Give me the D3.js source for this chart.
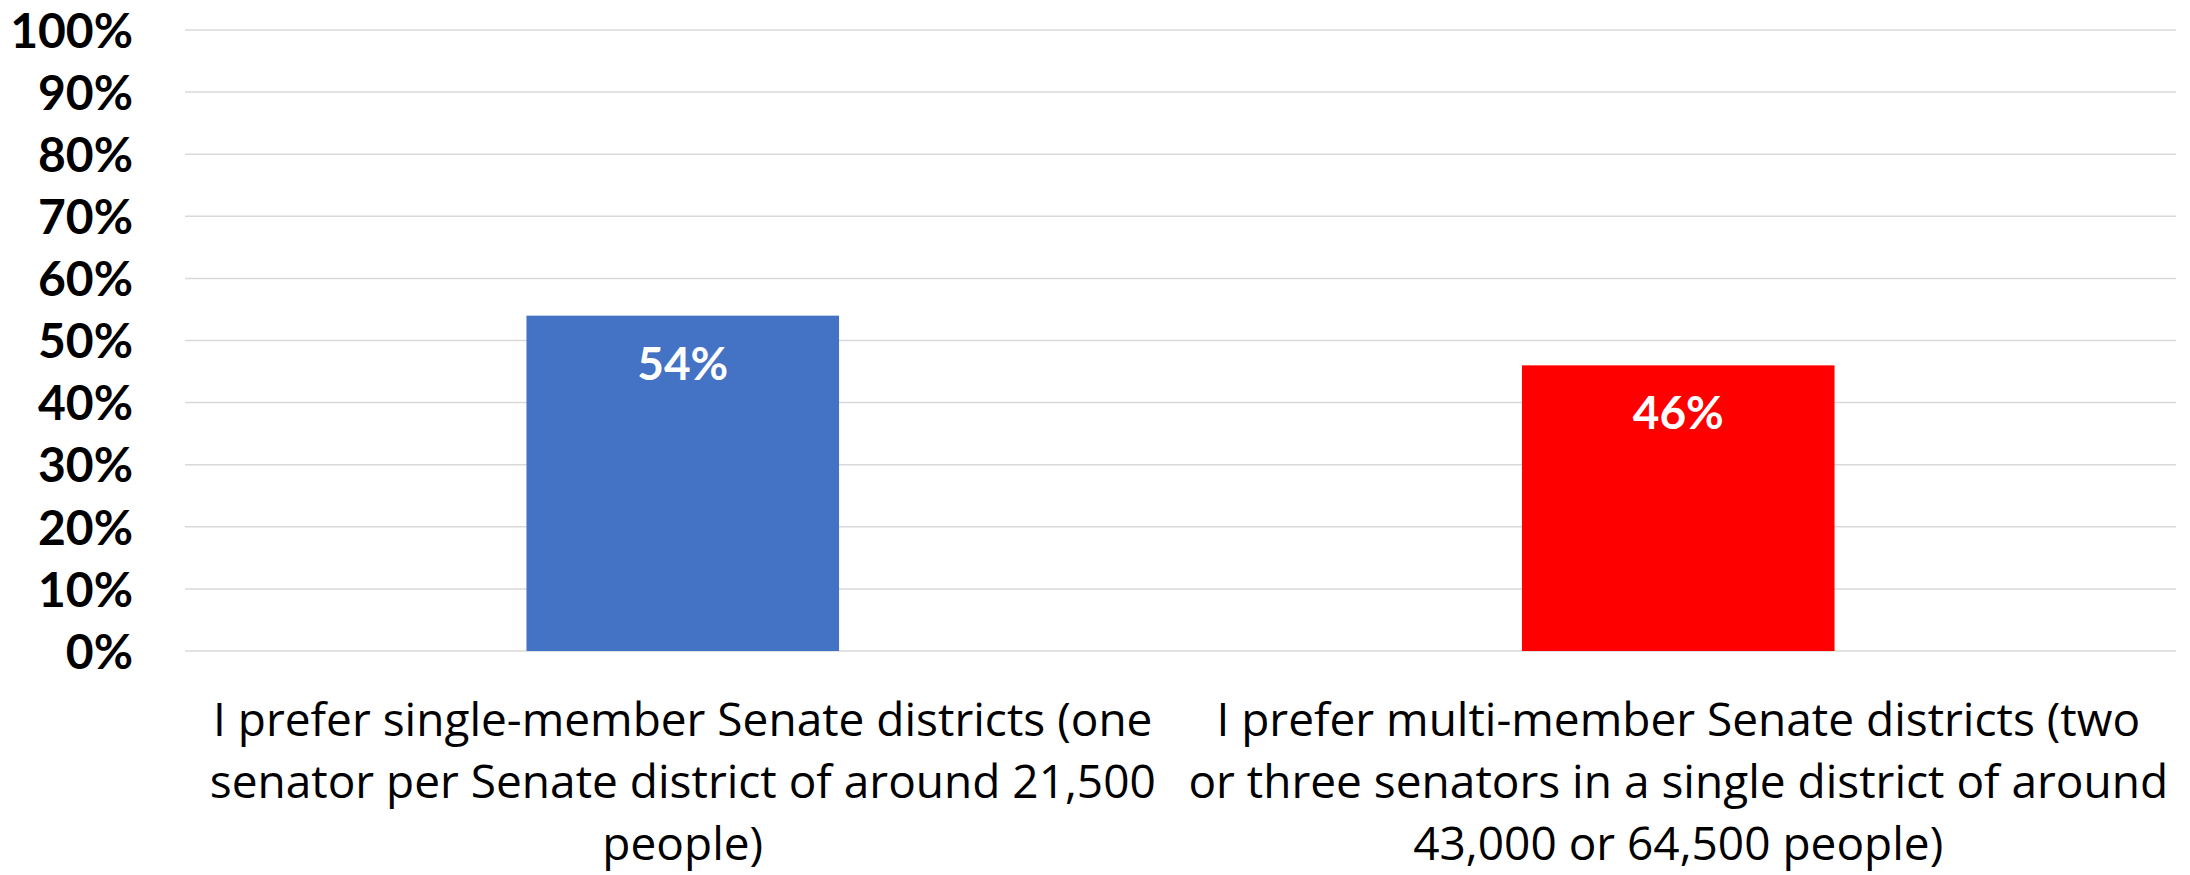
<!DOCTYPE html>
<html>
<head>
<meta charset="utf-8">
<script src="https://cdn.jsdelivr.net/npm/d3@7"></script>
<style>
  html, body { margin: 0; padding: 0; background: #ffffff; }
  svg { display: block; }
</style>
</head>
<body>
<svg id="chart" width="2190" height="875"></svg>
<script>
// Survey responses: preference between single- and multi-member Senate districts
const categories = [
  "I prefer single-member Senate districts (one senator per Senate district of around 21,500 people)",
  "I prefer multi-member Senate districts (two or three senators in a single district of around 43,000 or 64,500 people)"
];
const categoryLines = [
  ["I prefer single-member Senate districts (one", "senator per Senate district of around 21,500", "people)"],
  ["I prefer multi-member Senate districts (two", "or three senators in a single district of around", "43,000 or 64,500 people)"]
];
const values = [0.54, 0.46];
const barColors = ["#4472c4", "#ff0000"];
const yTicks = [0, 0.1, 0.2, 0.3, 0.4, 0.5, 0.6, 0.7, 0.8, 0.9, 1.0];

const svg = d3.select("#chart");
const margin = { top: 30, right: 14, bottom: 224, left: 185 };
const width = 2190 - margin.left - margin.right;
const height = 875 - margin.top - margin.bottom;

const g = svg.append("g").attr("transform", `translate(${margin.left},${margin.top})`);

const x = d3.scaleBand().domain(categories).range([0, width]).paddingInner(0.686).paddingOuter(0.343);
const y = d3.scaleLinear().domain([0, 1]).range([height, 0]);

// Horizontal gridlines
g.append("g")
  .selectAll("line")
  .data(yTicks)
  .join("line")
  .attr("x1", 0)
  .attr("x2", width)
  .attr("y1", d => y(d))
  .attr("y2", d => y(d))
  .attr("stroke", "#d9d9d9")
  .attr("stroke-width", 1.5);

// Y axis labels
const yAxis = d3.axisLeft(y).tickValues(yTicks).tickFormat(d3.format(".0%")).tickSize(0).tickPadding(52);
const ya = g.append("g").call(yAxis);
ya.select(".domain").remove();
ya.selectAll("text")
  .attr("font-family", "Lato, 'Open Sans', sans-serif")
  .attr("font-weight", "bold")
  .attr("font-size", 48)
  .attr("fill", "#000000")
  .attr("dy", "0.36em");

// Bars
g.selectAll("rect.bar")
  .data(values)
  .join("rect")
  .attr("class", "bar")
  .attr("x", (d, i) => x(categories[i]))
  .attr("width", x.bandwidth())
  .attr("y", d => y(d))
  .attr("height", d => y(0) - y(d))
  .attr("fill", (d, i) => barColors[i]);

// Value labels inside the bars
g.selectAll("text.val")
  .data(values)
  .join("text")
  .attr("class", "val")
  .attr("x", (d, i) => x(categories[i]) + x.bandwidth() / 2)
  .attr("y", d => y(d) + 64)
  .attr("text-anchor", "middle")
  .attr("font-family", "Lato, 'Open Sans', sans-serif")
  .attr("font-weight", "bold")
  .attr("font-size", 46)
  .attr("fill", "#ffffff")
  .text(d => d3.format(".0%")(d));

// Category labels below the axis
const catG = g.append("g").attr("transform", `translate(0,${height})`);
categories.forEach((c, i) => {
  const t = catG.append("text")
    .attr("x", x(c) + x.bandwidth() / 2)
    .attr("y", 85)
    .attr("text-anchor", "middle")
    .attr("font-family", "'Open Sans', Lato, sans-serif")
    .attr("font-size", 46)
    .attr("fill", "#000000");
  categoryLines[i].forEach((line, j) => {
    t.append("tspan")
      .attr("x", x(c) + x.bandwidth() / 2)
      .attr("dy", j === 0 ? 0 : 62)
      .text(line);
  });
});
</script>
</body>
</html>
